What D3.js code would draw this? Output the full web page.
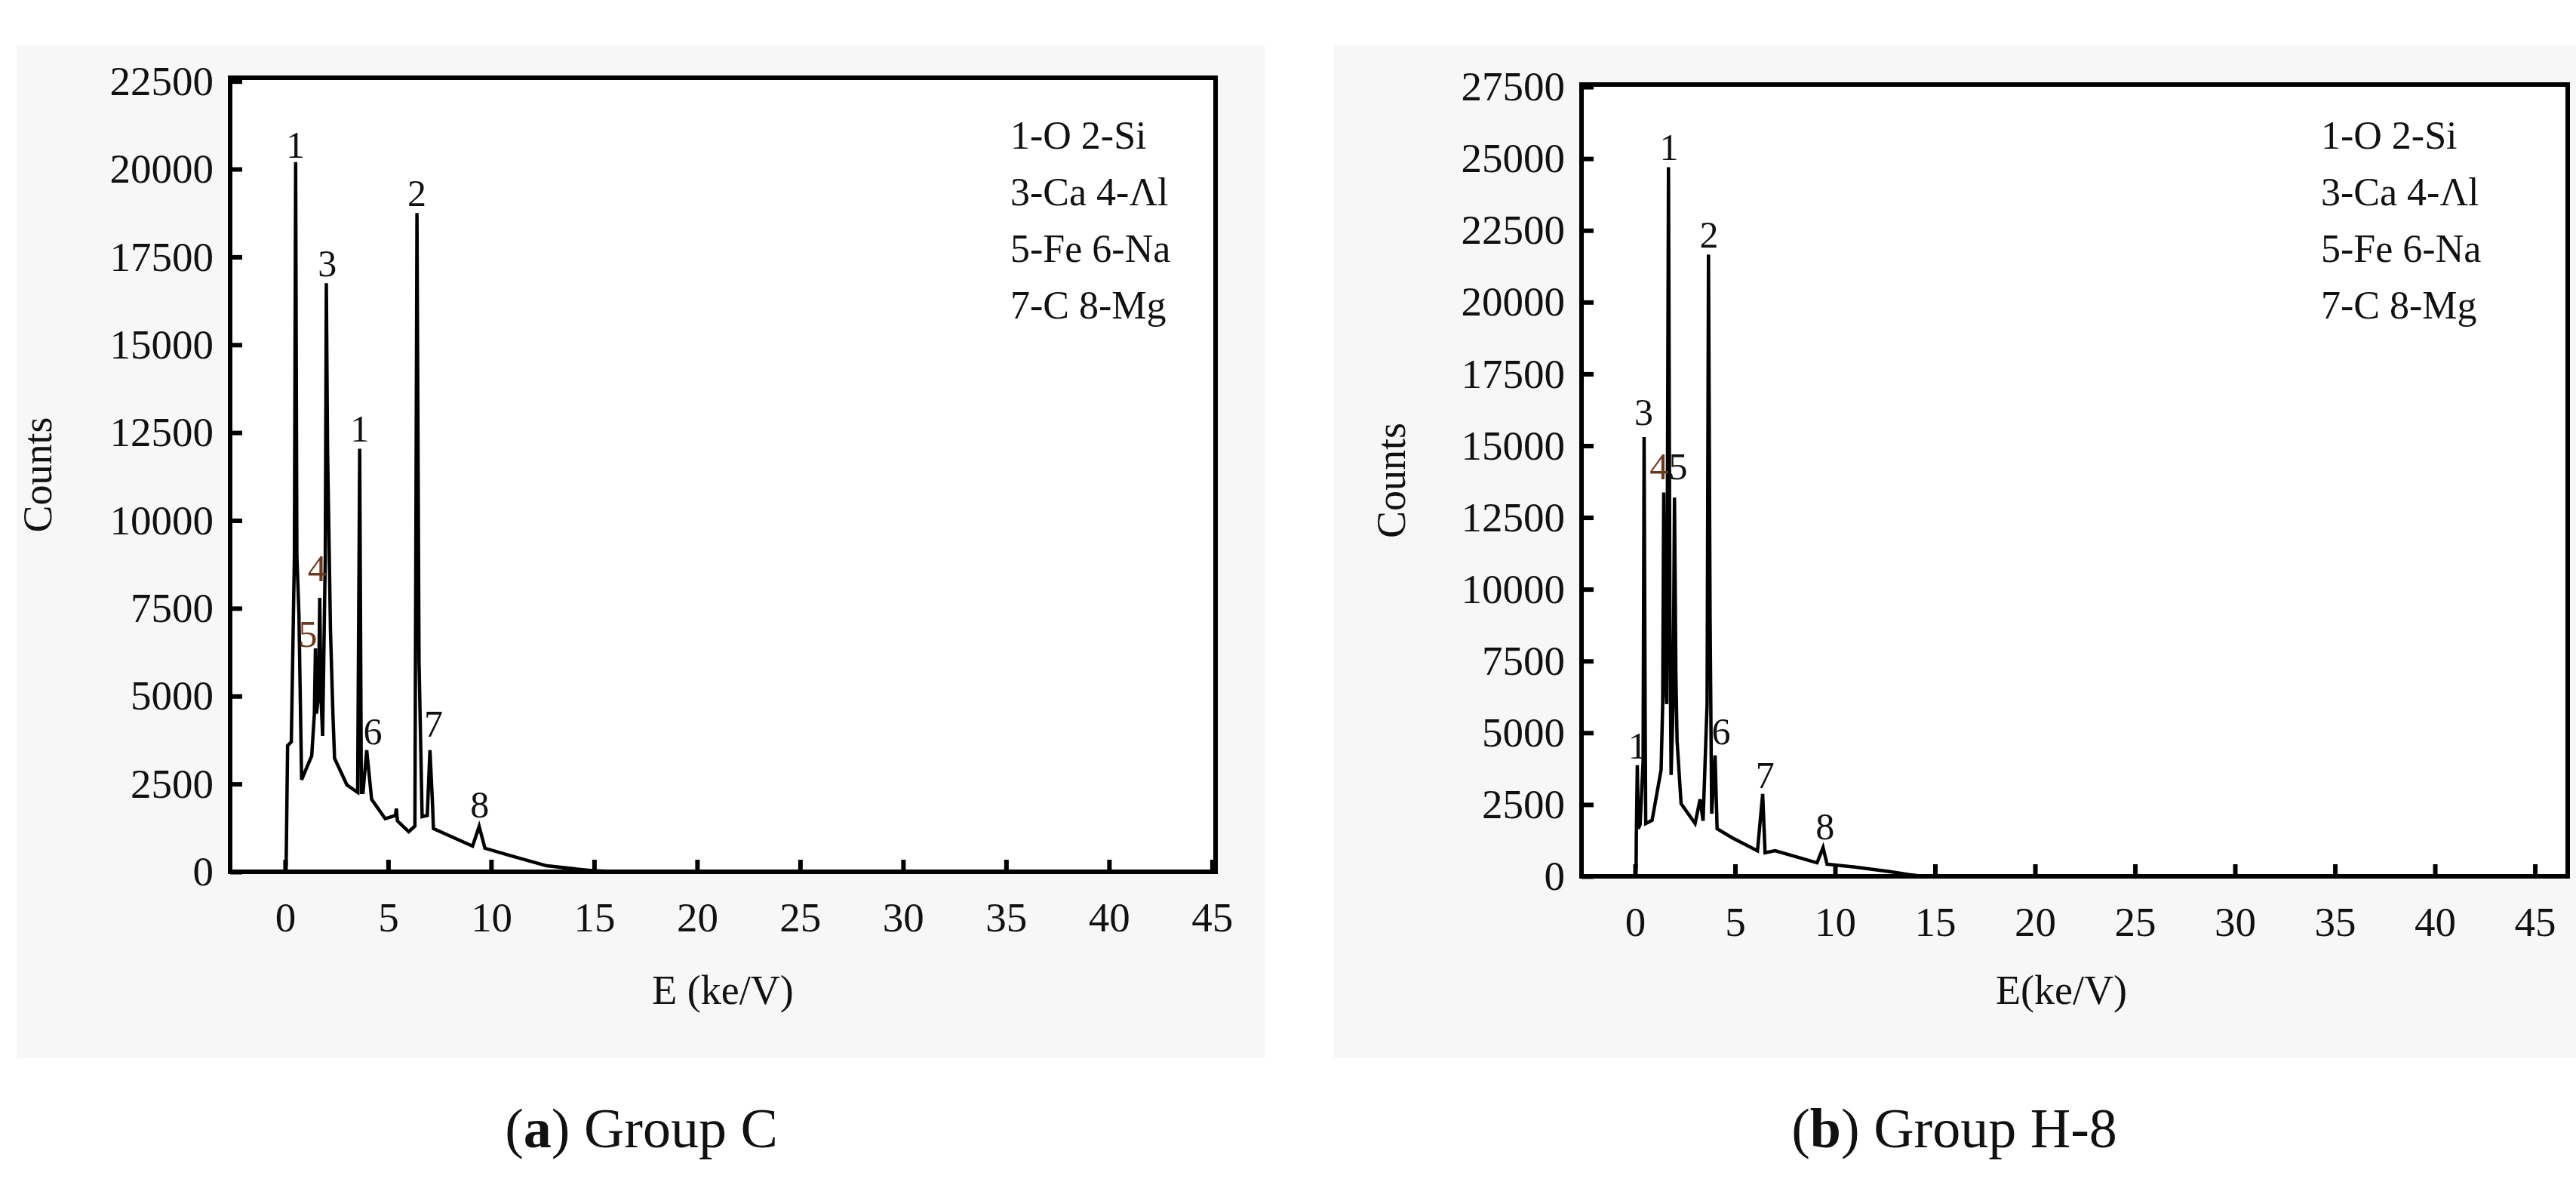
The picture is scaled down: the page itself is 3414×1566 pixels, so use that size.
<!DOCTYPE html>
<html>
<head>
<meta charset="utf-8">
<script src="https://cdn.jsdelivr.net/npm/d3@7"></script>
<style>
  body { margin: 0; background: #fff; }
  text { font-family: "Liberation Serif", serif; fill: #111; }
</style>
</head>
<body>
<div id="chart"></div>
<script>
// spectrum (a) Group C
const energyC = [0, 0.05, 0.12, 0.3, 0.45, 0.51, 0.57, 0.67, 0.8, 1.0, 1.29, 1.42, 1.47, 1.52, 1.62, 1.68, 1.74, 1.82, 1.95, 2.0, 2.06, 2.2, 2.32, 2.4, 3.0, 3.52, 3.62, 3.7, 3.78, 3.96, 4.2, 4.86, 5.35, 5.4, 5.45, 6.0, 6.3, 6.4, 6.5, 6.65, 6.9, 7.03, 7.15, 7.2, 9.1, 9.42, 9.7, 11.0, 12.7, 14.9, 16.3, 45];
const countsC = [0, 200, 3590, 3700, 9000, 20200, 9000, 7330, 2620, 2900, 3300, 4500, 6360, 4500, 5000, 7800, 5000, 3870, 9000, 16750, 12000, 6900, 4470, 3230, 2470, 2260, 12040, 2260, 2260, 3460, 2060, 1510, 1600, 1800, 1450, 1140, 1300, 18750, 6000, 1570, 1600, 3460, 2000, 1230, 730, 1290, 670, 450, 170, 30, 0, 0];
const peakLabelsC = ['1', '3', '1', '2', '4', '5', '6', '7', '8'];
const peakEnergyC = [0.5, 2.05, 3.62, 6.4, 1.55, 1.1, 4.25, 7.2, 9.45];
const peakTextC = [20280, 16900, 12200, 18900, 8230, 6360, 3590, 3800, 1500];

// spectrum (b) Group H-8
const energyH = [0, 0.05, 0.06, 0.11, 0.16, 0.25, 0.4, 0.45, 0.5, 0.53, 0.85, 1.3, 1.38, 1.43, 1.5, 1.58, 1.67, 1.74, 1.8, 1.9, 1.97, 2.04, 2.1, 2.3, 3.0, 3.25, 3.4, 3.6, 3.67, 3.75, 3.83, 4.0, 4.1, 4.86, 6.12, 6.38, 6.5, 7.0, 9.1, 9.4, 9.6, 11.0, 12.8, 13.8, 14.4, 45];
const countsH = [0, 300, 1340, 3870, 1660, 1800, 4000, 15300, 6000, 1840, 1950, 3710, 6000, 13370, 7000, 6000, 24700, 9000, 3530, 6000, 13190, 7000, 4710, 2530, 1840, 2680, 1934, 6000, 21660, 9000, 2180, 4210, 1660, 1340, 890, 2870, 820, 890, 470, 1000, 420, 320, 160, 50, 0, 0];
const peakLabelsH = ['1', '3', '4', '5', '1', '2', '6', '7', '8'];
const peakEnergyH = [0.12, 0.43, 1.2, 2.15, 1.7, 3.7, 4.3, 6.5, 9.5];
const peakTextH = [4050, 15660, 13790, 13790, 24900, 21850, 4550, 3030, 1240];

const xTicks = [0, 5, 10, 15, 20, 25, 30, 35, 40, 45];
const yTicksC = [0, 2500, 5000, 7500, 10000, 12500, 15000, 17500, 20000, 22500];
const yTicksH = [0, 2500, 5000, 7500, 10000, 12500, 15000, 17500, 20000, 22500, 25000, 27500];
const legendLines = ['1-O 2-Si', '3-Ca 4-\u039Bl', '5-Fe 6-Na', '7-C 8-Mg'];

const width = 3414;
const height = 1566;

const svg = d3.select('#chart')
  .append('svg')
  .attr('width', width)
  .attr('height', height);

function drawPanel(opt) {
  // gray backdrop of the original figure
  svg.append('rect')
    .attr('x', opt.bg[0]).attr('y', 60)
    .attr('width', opt.bg[1] - opt.bg[0]).attr('height', 1342)
    .attr('fill', '#f7f7f7');

  const x = d3.scaleLinear().domain(opt.xDomain).range([opt.left, opt.right]);
  const y = d3.scaleLinear().domain([0, opt.yMax]).range([opt.bottom, opt.top]);

  svg.append('rect')
    .attr('x', opt.left).attr('y', opt.top)
    .attr('width', opt.right - opt.left).attr('height', opt.bottom - opt.top)
    .attr('fill', '#fff');

  const line = d3.line().x((d, i) => x(opt.energy[i])).y(d => y(d));
  svg.append('path')
    .datum(opt.counts)
    .attr('d', line)
    .attr('fill', 'none')
    .attr('stroke', '#000')
    .attr('stroke-width', 4.5)
    .attr('stroke-linejoin', 'miter');

  const yAxis = svg.append('g')
    .attr('transform', `translate(${opt.left},0)`)
    .call(d3.axisLeft(y).tickValues(opt.yTicks).tickSize(-16).tickPadding(22).tickFormat(d3.format('d')));
  const xAxis = svg.append('g')
    .attr('transform', `translate(0,${opt.bottom})`)
    .call(d3.axisBottom(x).tickValues(xTicks).tickSize(-16).tickPadding(40));
  [xAxis, yAxis].forEach(a => {
    a.select('.domain').remove();
    a.selectAll('line').attr('stroke', '#000').attr('stroke-width', 6);
    a.selectAll('text').attr('font-family', 'Liberation Serif').attr('font-size', 55).attr('fill', '#111');
  });

  svg.append('rect')
    .attr('x', opt.left).attr('y', opt.top)
    .attr('width', opt.right - opt.left).attr('height', opt.bottom - opt.top)
    .attr('fill', 'none').attr('stroke', '#000').attr('stroke-width', 6);

  // peak numbers
  opt.labels.forEach((t, i) => {
    svg.append('text')
      .attr('x', x(opt.peakE[i]))
      .attr('y', y(opt.peakC[i]) - 2)
      .attr('text-anchor', 'middle')
      .attr('font-size', 50)
      .style('fill', (t === '4' || (t === '5' && opt.brown5)) ? '#6b3a1e' : '#111')
      .text(t);
  });

  // legend
  legendLines.forEach((t, i) => {
    svg.append('text')
      .attr('x', opt.legendX)
      .attr('y', 197 + i * 75)
      .attr('font-size', 52)
      .text(t);
  });

  svg.append('text')
    .attr('transform', `translate(${opt.yTitleX},${(opt.top + opt.bottom) / 2}) rotate(-90)`)
    .attr('text-anchor', 'middle')
    .attr('font-size', 54)
    .text('Counts');

  svg.append('text')
    .attr('x', opt.xTitleX)
    .attr('y', 1330)
    .attr('text-anchor', 'middle')
    .attr('font-size', 54)
    .text(opt.xTitle);

  const cap = svg.append('text')
    .attr('x', opt.capX)
    .attr('y', 1520)
    .attr('text-anchor', 'middle')
    .attr('font-size', 74);
  cap.append('tspan').text('(');
  cap.append('tspan').attr('font-weight', 'bold').text(opt.capLetter);
  cap.append('tspan').text(') ' + opt.capText);
}

drawPanel({
  bg: [22, 1676], left: 305, right: 1611, top: 103, bottom: 1155,
  xDomain: [-2.67, 45.17], yMax: 22600, yTicks: yTicksC,
  energy: energyC, counts: countsC,
  labels: peakLabelsC, peakE: peakEnergyC, peakC: peakTextC, brown5: true,
  legendX: 1339, yTitleX: 68, xTitleX: 958, xTitle: 'E (ke/V)',
  capX: 850, capLetter: 'a', capText: 'Group C'
});

drawPanel({
  bg: [1768, 3414], left: 2096, right: 3403, top: 112, bottom: 1161,
  xDomain: [-2.68, 46.64], yMax: 27580, yTicks: yTicksH,
  energy: energyH, counts: countsH,
  labels: peakLabelsH, peakE: peakEnergyH, peakC: peakTextH, brown5: false,
  legendX: 3076, yTitleX: 1862, xTitleX: 2732, xTitle: 'E(ke/V)',
  capX: 2590, capLetter: 'b', capText: 'Group H-8'
});
</script>
</body>
</html>
